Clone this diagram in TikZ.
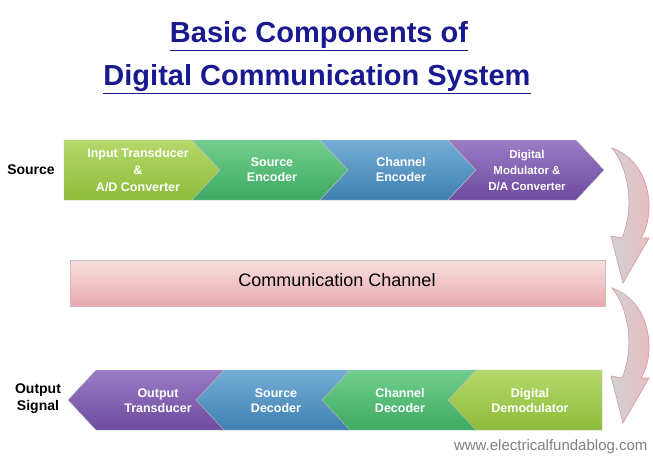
\documentclass[tikz,border=0pt]{standalone}
\usepackage{fontspec}
\setmainfont{Liberation Sans}
\begin{document}
\begin{tikzpicture}[x=1pt,y=-1pt,
  lbl/.style={font=\bfseries\fontsize{12.5}{15}\selectfont,text=white,align=center},
  side/.style={font=\bfseries\fontsize{14}{17}\selectfont,align=center},
  ttl/.style={font=\bfseries\fontsize{29}{32}\selectfont,text=titleblue},
  chev/.style={draw=black!25,line width=0.4pt}]
\definecolor{titleblue}{HTML}{1A1A90}
\definecolor{cA}{HTML}{8DBB3A}\definecolor{cAt}{HTML}{B5D96A}
\definecolor{cB}{HTML}{3DAA64}\definecolor{cBt}{HTML}{72CE8E}
\definecolor{cC}{HTML}{3F7FB0}\definecolor{cCt}{HTML}{74AED6}
\definecolor{cD}{HTML}{6E4A9E}\definecolor{cDt}{HTML}{9A7CC6}
\definecolor{pk}{HTML}{E8A9AE}\definecolor{pkt}{HTML}{F8E0E0}
\useasboundingbox (0,0) rectangle (653,458);
\fill[white] (0,0) rectangle (653,458);
% title
\node[ttl] (t1) at (319,36) {\underline{Basic Components of}};
\node[ttl] (t2) at (317,79) {\underline{Digital Communication System}};
% top chevrons
\newcommand\topchev[3]{\path[chev,top color=#3,bottom color=#2] (#1,140) -- (#1+128,140) -- (#1+156,170) -- (#1+128,200) -- (#1,200) -- (#1+28,170) -- cycle;}
\path[chev,top color=cAt,bottom color=cA] (64,140) -- (192,140) -- (220,170) -- (192,200) -- (64,200) -- cycle;
\topchev{192}{cB}{cBt}
\topchev{320}{cC}{cCt}
\topchev{448}{cD}{cDt}
\node[lbl,font=\bfseries\fontsize{12.5}{17}\selectfont] (a1) at (138,170) {Input Transducer\\\&\\A/D Converter};
\node[lbl] (a2) at (272,170) {Source\\Encoder};
\node[lbl] (a3) at (401,170) {Channel\\Encoder};
\node[lbl,font=\bfseries\fontsize{11.5}{16}\selectfont] (a4) at (527,170) {Digital\\Modulator \&\\D/A Converter};
\node[side] (src) at (31,170) {Source};
% channel
\path[draw=pk!80!black!60,top color=pkt,bottom color=pk] (70,260) rectangle (605,306);
\node[font=\fontsize{18}{20}\selectfont] (ch) at (337,280) {Communication Channel};
% bottom chevrons
\newcommand\botchev[3]{\path[chev,top color=#3,bottom color=#2] (#1,370) -- (#1-128,370) -- (#1-156,400) -- (#1-128,430) -- (#1,430) -- (#1-28,400) -- cycle;}
\path[chev,top color=cAt,bottom color=cA] (602,370) -- (474,370) -- (446,400) -- (474,430) -- (602,430) -- cycle;
\botchev{476}{cB}{cBt}
\botchev{350}{cC}{cCt}
\botchev{224}{cD}{cDt}
\node[lbl] (b1) at (158,401) {Output\\Transducer};
\node[lbl] (b2) at (276,401) {Source\\Decoder};
\node[lbl] (b3) at (400,401) {Channel\\Decoder};
\node[lbl] (b4) at (530,401) {Digital\\Demodulator};
\node[side] (out) at (38,399) {Output\\Signal};
% curved arrows
\foreach \dy in {0,140}{
\path[draw=pk!90!black,line width=0.6pt,left color=black!18,right color=pk!80]
 (612,148+\dy) .. controls (652,162+\dy) and (656,215+\dy) .. (641,238+\dy) -- (649,238+\dy) -- (623,283+\dy) -- (611,236+\dy) -- (622,238+\dy) .. controls (634,210+\dy) and (630,170+\dy) .. (612,148+\dy) -- cycle;}
\node[text=black!50,font=\fontsize{15}{17}\selectfont,anchor=east] (web) at (651,447) {www.electricalfundablog.com};
\end{tikzpicture}
\end{document}
